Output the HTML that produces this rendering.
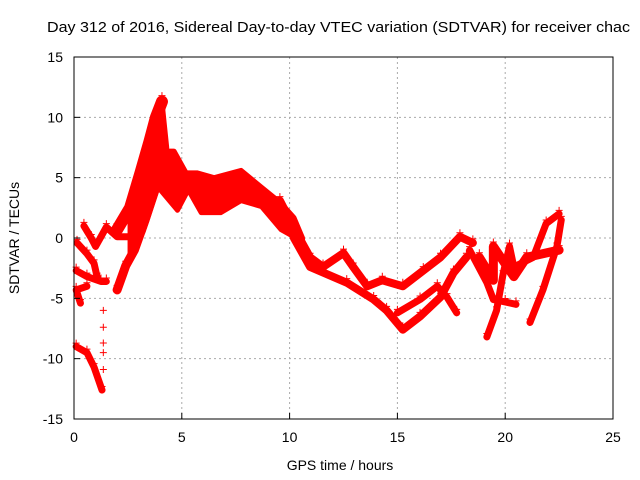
<!DOCTYPE html>
<html><head><meta charset="utf-8"><style>
body{margin:0;background:#fff;}
svg{display:block;font-family:"Liberation Sans",sans-serif;}
</style></head><body>
<svg id="chart" width="640" height="480" viewBox="0 0 640 480" xmlns="http://www.w3.org/2000/svg">
<text x="47" y="32" font-size="15" textLength="583" lengthAdjust="spacingAndGlyphs" fill="#000">Day 312 of 2016, Sidereal Day-to-day VTEC variation (SDTVAR) for receiver chac</text>
<g id="grid"></g>
<g id="series"></g>
<rect x="74" y="57" width="539" height="362" fill="none" stroke="#000" stroke-width="1"/>
<g id="ticks"></g>
<text x="340" y="470" font-size="14" text-anchor="middle">GPS time / hours</text>
<text transform="translate(19,238) rotate(-90)" font-size="14" text-anchor="middle">SDTVAR / TECUs</text>
</svg>
<script>
const xTicks=[0,5,10,15,20,25];
const yTicks=[-15,-10,-5,0,5,10,15];
const bandUpper=[[3.9,5.5],[4.3,7.2],[4.64,7.2],[5.2,5.4],[5.7,5.4],[6.5,5.0],[7.75,5.6],[8.7,4.2],[9.6,2.9],[10.2,1.7],[10.6,0]];
const bandLower=[[4.0,4.0],[4.8,2.3],[5.3,4.0],[5.9,2.1],[6.8,2.1],[7.75,3.1],[8.7,2.6],[9.6,0.7],[10.2,0.1],[10.6,-0.5]];
const earlyUpper=[[2.6,2.5],[3.1,5.5],[3.5,8],[3.8,10],[4.08,11.3],[4.3,7.5]];
const earlyLower=[[2.6,-1.5],[3.2,0.5],[3.85,4.0],[4.3,5.5]];
const trackA=[[0.14,-0.4],[0.6,-1.3],[0.93,-2.1],[1.07,-3.2]];
const trackB=[[0.46,1.0],[0.8,0],[1.0,-0.7],[1.5,0.9],[2.0,0.1],[2.8,0.1]];
const trackC=[[0.1,-2.7],[0.6,-3.2],[1.25,-3.6],[1.5,-3.6]];
const trackD=[[0.3,-5.4],[0.1,-4.3],[0.6,-4.0]];
const trackE=[[0.1,-9.0],[0.6,-9.5],[0.93,-10.7],[1.3,-12.6]];
const strayX=[1.36,1.36,1.36,1.36,1.36];
const strayY=[-6,-7.4,-8.7,-9.5,-10.9];
const trackPeak=[[2.0,0.7],[2.6,2.5],[3.1,5.5],[3.5,8],[3.8,10],[4.08,11.3]];
const trackRise=[[2.0,-4.3],[2.4,-2.3],[2.8,-1],[3.3,1.5],[3.85,4.5],[4.3,6]];
const trackUpper=[[9.55,3.1],[10.3,0.5],[10.95,-1.6],[11.55,-2.4],[12.5,-1.25],[12.95,-2.4],[13.6,-4],[14.3,-3.5],[15.25,-4],[16.2,-2.7],[17,-1.6],[17.9,0.1],[18.5,-0.4]];
const trackLower=[[10.2,0],[10.95,-2.4],[12.65,-3.7],[13.9,-5.1],[14.5,-6],[15.25,-7.6],[16.05,-6.5],[17,-4.9],[17.6,-2.9],[18.2,-1.6]];
const trackMid=[[15,-6.2],[16.05,-5.1],[16.85,-4],[17.3,-4.9],[17.75,-6.2]];
const trackDesc=[[18.35,-1],[19.15,-3.7],[19.45,-5.1],[20.0,-5.3],[20.5,-5.5]];
const trackLate1=[[19.15,-8.2],[19.6,-6],[19.9,-3],[20.2,-0.7],[20.4,-2.4],[21.3,-1.6],[21.9,1.2],[22.5,2]];
const trackBlob=[[18.8,-1.6],[19.45,-3.5],[19.45,-0.7],[20.4,-3.2],[21,-1.6],[22.5,-1]];
const trackLate2=[[21.15,-7],[21.75,-4.3],[22.4,-0.7],[22.6,1.5]];

const NS="http://www.w3.org/2000/svg";
const X0=74,X1=613,Y0=419,Y1=57;
function sx(v){return X0+(v-0)/(25-0)*(X1-X0);}
function sy(v){return Y0-(v+15)/30*(Y0-Y1);}
const grid=document.getElementById('grid'),ticks=document.getElementById('ticks'),ser=document.getElementById('series');
function el(t,a,p){const e=document.createElementNS(NS,t);for(const k in a)e.setAttribute(k,a[k]);p.appendChild(e);return e;}
xTicks.forEach(v=>{const x=sx(v);
 if(v>0&&v<25){const g=el('line',{x1:x,x2:x,y1:Y1,y2:Y0,stroke:'#aaa','stroke-dasharray':'2,3'},grid);
 
 }
 const t=el('line',{x1:x,x2:x,y1:Y0,y2:Y0-6,stroke:'#000'},ticks);
 
 
 const l=el('text',{x:x,y:442,'font-size':14,'text-anchor':'middle'},ticks);l.textContent=v;
 
 
});
yTicks.forEach(v=>{const y=sy(v);
 if(v>-15&&v<15){const g=el('line',{x1:X0,x2:X1,y1:y,y2:y,stroke:'#aaa','stroke-dasharray':'2,3'},grid);
 
 }
 const t=el('line',{x1:X0,x2:X0+6,y1:y,y2:y,stroke:'#000'},ticks);
 
 
 const l=el('text',{x:63,y:y+5,'font-size':14,'text-anchor':'end'},ticks);l.textContent=v;
 
 
});
function plus(x,y){return `M${x-3.5},${y}h7M${x},${y-3.5}v7`;}
function poly(up,lo,name){
 const pts=up.concat(lo.slice().reverse()).map(p=>sx(p[0])+','+sy(p[1])).join(' ');
 const b=el('polygon',{points:pts,fill:'#f00',stroke:'#f00','stroke-width':5,'stroke-linejoin':'round'},ser);
 
 
}
poly(bandUpper,bandLower,'sdtvar-band');
poly(earlyUpper,earlyLower,'sdtvar-early-band');
const tracks=[trackA,trackB,trackC,trackD,trackE,trackPeak,trackRise,trackUpper,trackLower,trackMid,trackDesc,trackLate1,trackBlob,trackLate2];
const widths=[7,7,7,7,7,12,9,8,8,7,7,7,9,7];
tracks.forEach((tr,i)=>{
 const pts=tr.map(p=>sx(p[0])+','+sy(p[1])).join(' ');
 const pl=el('polyline',{points:pts,fill:'none',stroke:'#f00','stroke-width':widths[i],'stroke-linejoin':'round','stroke-linecap':'round'},ser);
 
 
 let d='';tr.forEach(p=>{d+=plus(sx(p[0]),sy(p[1])-widths[i]/2);});
 const m=el('path',{d:d,stroke:'#f00','stroke-width':1,fill:'none'},ser);
 
 
});
let d='';strayX.forEach((x,i)=>{d+=plus(sx(x),sy(strayY[i]));});
const sm=el('path',{d:d,stroke:'#f00','stroke-width':1,fill:'none'},ser);


</script>
</body></html>
